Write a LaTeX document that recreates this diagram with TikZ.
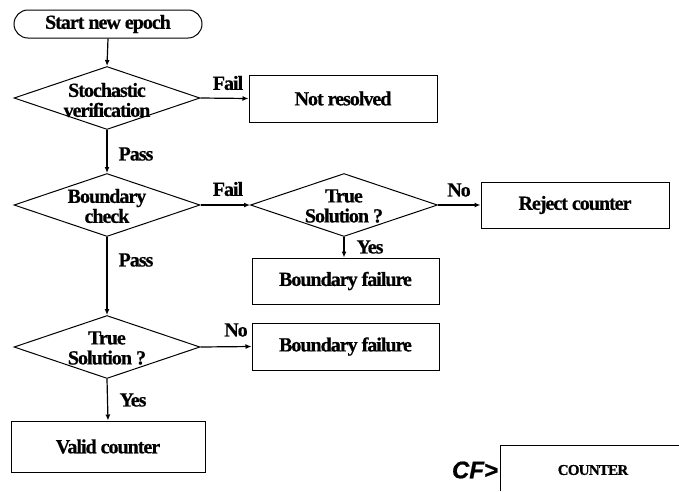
\documentclass[tikz,border=0pt]{standalone}
\usepackage{fontspec}
\setmainfont[LetterSpace=-5, BoldFeatures={FakeBold=0.6}]{Liberation Serif}
\newfontfamily\cfsans[FakeBold=0.8]{Liberation Sans}
\usetikzlibrary{shapes.geometric,arrows.meta}
\tikzset{
  shapeline/.style={draw=black, line width=1pt},
  dia/.style={shapeline, diamond, minimum width=186pt, minimum height=63pt, inner sep=0pt},
  box/.style={shapeline, rectangle, minimum width=188pt, minimum height=47pt, inner sep=0pt, font=\fontsize{20}{20}\selectfont\bfseries},
  txt/.style={inner sep=0pt, align=center, font=\fontsize{20}{20}\selectfont\bfseries},
  lbl/.style={inner sep=0pt, font=\fontsize{20}{20}\selectfont\bfseries},
  arr/.style={line width=1.2pt, -{Latex[length=6pt,width=5pt]}}
}
\begin{document}
\begin{tikzpicture}[x=1pt,y=-1pt]
\useasboundingbox (0,0) rectangle (679,491);
% start
\node[shapeline, rectangle, rounded corners=14pt, minimum width=188pt, minimum height=28pt, inner sep=0pt, font=\fontsize{20}{20}\selectfont\bfseries] (start) at (108,24) {Start new epoch};
% diamonds
\node[dia] (d1) at (107,98) {};
\node[txt] (t1) at (107,100) {Stochastic\\verification};
\node[dia] (d2) at (107,205) {};
\node[txt] (t2) at (107,206) {Boundary\\check};
\node[dia, minimum width=187pt] (d3) at (344,205) {};
\node[txt] (t3) at (344,206) {True\\Solution ?};
\node[dia] (d4) at (107,347) {};
\node[txt] (t4) at (107,348) {True\\Solution ?};
% boxes
\node[box] (nr) at (343,98.5) {Not resolved};
\node[box, minimum height=46pt] (rc) at (575,205) {Reject counter};
\node[box, minimum width=187pt, minimum height=46pt] (bf1) at (345.5,281) {Boundary failure};
\node[box, minimum width=187pt] (bf2) at (345.5,346.5) {Boundary failure};
\node[box, minimum width=194pt, minimum height=51pt] (vc) at (108,446.5) {Valid counter};
% connectors
\draw[arr] (start.south) -- (d1.north);
\draw[arr] (d1.east) -- (nr.west);
\draw[arr] (d1.south) -- (d2.north);
\draw[arr] (d2.east) -- (d3.west);
\draw[arr] (d3.east) -- (rc.west);
\draw[arr] (d3.south) -- (d3.south |- bf1.north);
\draw[arr] (d2.south) -- (d4.north);
\draw[arr] (d4.east) -- (bf2.west);
\draw[arr] (d4.south) -- (vc.north);
% labels
\node[lbl] (l1) at (228,83) {Fail};
\node[lbl] (l2) at (136,154) {Pass};
\node[lbl] (l3) at (228,189) {Fail};
\node[lbl] (l4) at (459,190) {No};
\node[lbl] (l5) at (370,247) {Yes};
\node[lbl] (l6) at (136,260) {Pass};
\node[lbl] (l7) at (236,330) {No};
\node[lbl] (l8) at (133,400) {Yes};
% CF> COUNTER fragment
\coordinate (cb) at (500,491);
\coordinate (ct) at (500,445);
\coordinate (cr) at (679,445);
\draw[line width=1pt] (cb) -- (ct) -- (cr);
\node[inner sep=0pt, font=\fontsize{15}{16}\selectfont\bfseries] (cnt) at (593,470) {COUNTER};
\node[inner sep=0pt, font=\cfsans\fontsize{24}{26}\selectfont\bfseries\itshape] (cf) at (475,470) {CF>};
\end{tikzpicture}
\end{document}
